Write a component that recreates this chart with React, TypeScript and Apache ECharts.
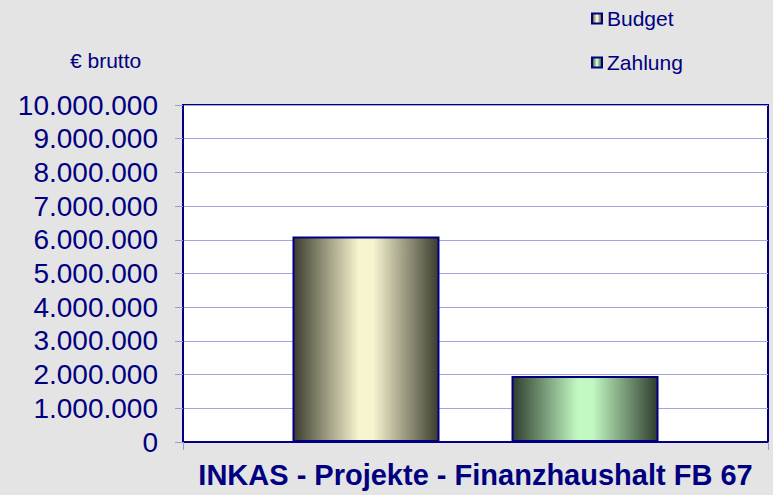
import React, { useEffect, useRef } from "react";
import * as echarts from "echarts";

const categories = ["INKAS - Projekte - Finanzhaushalt FB 67"];
const seriesNames = ["Budget", "Zahlung"];
const budgetValues = [6100000];
const zahlungValues = [1960000];
const yMin = 0;
const yMax = 10000000;
const yInterval = 1000000;
const unitLabel = "€ brutto";

const NAVY = "#000080";
const FONT = "Arial, 'Liberation Sans', sans-serif";

function fmt(v: number): string {
  return String(Math.round(v)).replace(/\B(?=(\d{3})+(?!\d))/g, ".");
}

function grad(edge: string, center: string) {
  return new echarts.graphic.LinearGradient(0, 0, 1, 0, [
    { offset: 0, color: edge },
    { offset: 0.45, color: center },
    { offset: 0.55, color: center },
    { offset: 1, color: edge },
  ]);
}

export default function App() {
  const ref = useRef<HTMLDivElement>(null);
  useEffect(() => {
    if (!ref.current) return;
    const chart = echarts.init(ref.current, undefined, { renderer: "svg" });
    chart.setOption({
      animation: false,
      backgroundColor: "#e4e4e4",
      textStyle: { fontFamily: FONT },
      grid: {
        left: 183,
        right: 5,
        top: 105,
        bottom: 53,
        show: true,
        backgroundColor: "#ffffff",
        borderColor: NAVY,
        borderWidth: 2,
      },
      legend: {
        orient: "vertical",
        left: 591,
        top: 8,
        padding: 0,
        icon: "rect",
        itemWidth: 10,
        itemHeight: 10,
        itemGap: 23,
        data: seriesNames,
        textStyle: { color: NAVY, fontSize: 21, lineHeight: 21, fontFamily: FONT },
        itemStyle: { borderColor: NAVY, borderWidth: 2 },
      },
      graphic: [
        {
          type: "text",
          left: 70,
          top: 50,
          style: { text: unitLabel, fill: NAVY, fontSize: 21, fontFamily: FONT },
        },
      ],
      xAxis: {
        type: "category",
        data: categories,
        axisLine: { show: true, lineStyle: { color: NAVY, width: 2 } },
        axisTick: { show: true, length: 8, lineStyle: { color: "#9a9ad0" } },
        axisLabel: {
          color: NAVY,
          fontSize: 29,
          fontWeight: "bold",
          margin: 18,
          interval: 0,
        },
      },
      yAxis: {
        type: "value",
        min: yMin,
        max: yMax,
        interval: yInterval,
        axisLine: { show: true, lineStyle: { color: NAVY, width: 2 } },
        axisTick: { show: true, length: 8, lineStyle: { color: "#9a9ad0" } },
        splitLine: { show: true, lineStyle: { color: "#a4a4dc", width: 1 } },
        axisLabel: {
          color: NAVY,
          fontSize: 28,
          margin: 25,
          formatter: (v: number) => fmt(v),
        },
      },
      series: [
        {
          name: seriesNames[0],
          type: "bar",
          data: budgetValues,
          barWidth: 147,
          barGap: "49%",
          itemStyle: { color: grad("#3c3c2e", "#f7f4d0"), borderColor: NAVY, borderWidth: 2 },
        },
        {
          name: seriesNames[1],
          type: "bar",
          data: zahlungValues,
          barWidth: 147,
          itemStyle: { color: grad("#2f3d2f", "#c2f9c2"), borderColor: NAVY, borderWidth: 2 },
        },
      ],
    });
    return () => chart.dispose();
  }, []);
  return (
    <div
      ref={ref}
      style={{ position: "fixed", left: 0, top: 0, width: 773, height: 495 }}
    />
  );
}
